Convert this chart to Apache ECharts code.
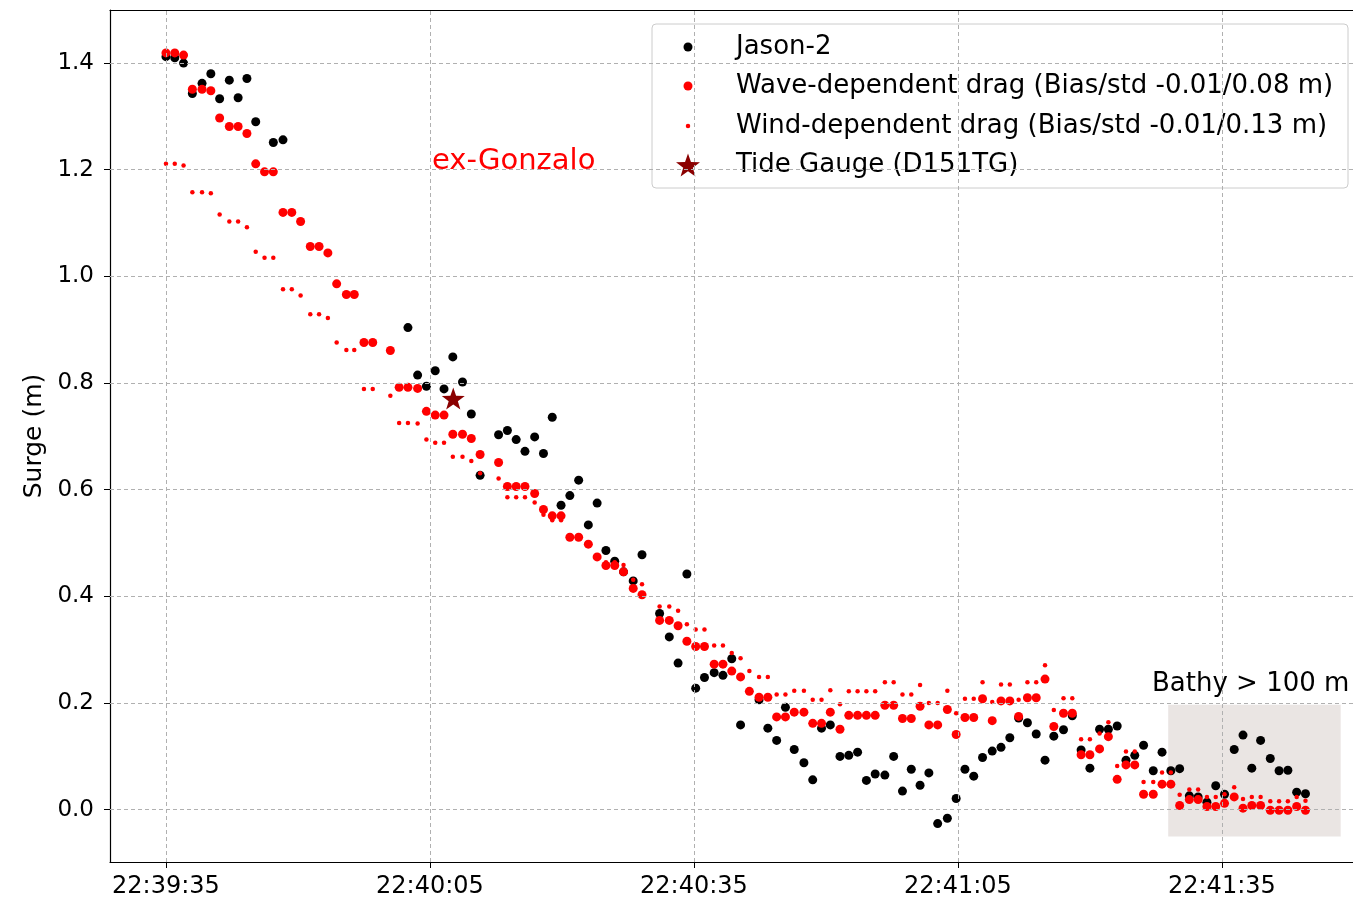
<!DOCTYPE html>
<html><head><meta charset="utf-8">
<script src="https://cdn.jsdelivr.net/npm/echarts@6/dist/echarts.min.js"></script>
<style>html,body{margin:0;padding:0;background:#fff}#c{width:1353px;height:903px}</style>
</head><body><div id="c"></div>
<script>
// seconds after 22:39:35 of each along-track sample
const seconds = [0.0,1.0,2.0,3.0,4.1,5.1,6.1,7.2,8.2,9.2,10.2,11.2,12.2,13.3,14.3,15.3,16.4,17.4,18.4,19.4,20.5,21.4,22.5,23.5,
25.5,26.5,27.5,28.6,29.6,30.6,31.6,32.6,33.7,34.7,35.7,
37.8,38.8,39.8,40.8,41.9,42.9,43.9,44.9,45.9,46.9,48.0,49.0,50.0,51.0,52.0,53.1,54.1,
56.1,57.2,58.2,59.2,60.2,61.2,62.3,63.3,64.3,65.3,66.3,67.4,68.4,69.4,70.4,71.4,72.5,
73.5,74.5,75.5,76.6,77.6,78.6,79.6,80.6,81.7,82.7,83.7,84.7,85.7,86.7,87.7,88.8,89.8,90.8,91.8,92.8,
93.9,94.9,95.9,96.9,97.9,98.9,99.9,100.9,102.0,103.0,104.0,105.0,106.1,107.1,108.1,109.1,110.1,111.1,112.2,113.2,
114.2,115.2,116.3,117.3,118.3,119.3,120.3,121.4,122.4,123.4,124.4,125.5,126.5,127.5,128.5,129.5];

const jason2 = [1.412,1.410,1.400,1.343,1.362,1.380,1.333,1.368,1.335,1.371,1.290,null,1.251,1.256,
null,null,null,null,null,null,null,null,null,null,null,null,
0.904,0.815,0.794,0.823,0.789,0.849,0.802,0.742,0.627,0.703,0.711,0.694,0.672,0.699,0.668,0.736,
0.571,0.589,0.618,0.534,0.575,0.486,0.466,0.446,0.429,0.478,
0.368,0.324,0.275,0.442,0.228,0.248,0.257,0.252,0.283,0.159,
null,
0.206,0.153,0.130,0.192,0.113,0.088,0.056,0.153,0.159,0.100,0.102,0.108,0.055,0.067,0.065,0.100,0.035,0.076,0.046,0.069,
-0.026,-0.016,0.021,0.076,0.063,0.098,0.110,0.117,0.135,0.172,0.163,0.142,0.093,0.138,0.150,0.176,0.112,0.078,0.151,0.151,
0.157,0.093,0.102,0.121,0.073,0.108,0.073,0.077,0.026,0.024,0.014,0.045,0.029,0.113,0.140,0.078,0.130,0.096,0.073,0.074,
0.033,0.030];

const waveDrag = [1.419,1.419,1.415,1.351,1.351,1.348,1.297,1.281,1.281,1.268,1.211,1.196,1.196,1.120,1.120,1.103,1.056,1.056,1.044,0.986,0.966,0.966,0.876,0.876,
0.861,0.792,0.792,0.790,0.747,0.740,0.740,0.704,0.704,0.696,0.666,
0.651,0.606,0.606,0.606,0.593,0.563,0.551,0.551,0.511,0.511,0.498,0.474,0.458,0.458,0.446,0.415,0.403,
0.355,0.355,0.345,0.316,0.306,0.306,0.273,0.273,0.260,0.249,
0.222,0.211,0.211,0.174,0.174,0.183,0.183,0.162,0.162,0.183,
0.151,0.177,0.177,0.177,0.177,0.196,0.196,0.171,0.171,0.194,
0.159,0.159,0.188,0.141,0.173,0.173,0.208,0.167,0.204,0.204,
0.175,0.210,0.210,0.245,0.156,0.181,0.181,0.103,0.103,0.114,
0.137,0.057,0.084,0.084,0.029,0.029,0.048,0.048,0.008,0.019,
0.019,0.006,0.006,0.012,0.024,0.003,0.008,0.008,-0.001,-0.001,
-0.001,0.006,-0.001];

const windDrag = [1.211,1.211,1.208,1.158,1.158,1.156,1.116,1.103,1.103,1.092,1.046,1.035,1.035,0.976,0.976,0.964,0.929,0.929,0.922,0.876,0.862,0.862,0.789,0.789,
0.776,0.725,0.725,0.724,0.694,0.688,0.688,0.662,0.662,0.654,0.631,
0.621,0.586,0.586,0.586,0.576,0.553,0.543,0.543,0.512,0.512,0.499,0.475,0.464,0.464,0.459,0.431,0.423,
0.381,0.381,0.373,0.348,0.338,0.338,0.308,0.308,0.294,0.284,
0.260,0.249,0.249,0.216,0.216,0.223,0.223,0.206,0.206,0.224,
0.198,0.222,0.222,0.222,0.222,0.239,0.239,0.216,0.216,0.234,
0.200,0.200,0.223,0.181,0.208,0.208,0.239,0.202,0.235,0.235,
0.206,0.239,0.239,0.271,0.187,0.209,0.209,0.132,0.132,0.143,
0.164,0.082,0.109,0.109,0.052,0.052,0.070,0.070,0.028,0.038,
0.038,0.024,0.024,0.029,0.042,0.020,0.024,0.024,0.016,0.016,
0.016,0.024,0.017];

const tideGaugeSecond = 32.65;
const tideGaugeSurge = 0.771;

const xTickSeconds = [0, 30, 60, 90, 120];
const xTickLabels = ['22:39:35', '22:40:05', '22:40:35', '22:41:05', '22:41:35'];
const yTicks = [0.0, 0.2, 0.4, 0.6, 0.8, 1.0, 1.2, 1.4];

const bathyStart = 113.9, bathyEnd = 133.5, bathyLow = -0.05, bathyHigh = 0.197;

const seriesNames = ['Jason-2', 'Wave-dependent drag (Bias/std -0.01/0.08 m)', 'Wind-dependent drag (Bias/std -0.01/0.13 m)', 'Tide Gauge (D151TG)'];

const STAR = 'path://M0,-10 L2.35,-3.24 L9.51,-3.09 L3.80,1.24 L5.88,8.09 L0,4 L-5.88,8.09 L-3.80,1.24 L-9.51,-3.09 L-2.35,-3.24 Z';

function pairs(vals) {
  const out = [];
  for (let i = 0; i < seconds.length; i++) if (vals[i] !== null) out.push([seconds[i], vals[i]]);
  return out;
}

const FONT = 'DejaVu Sans';
const legendRows = [47, 86, 126, 165];
const legendSizes = [9, 9, 4.5, 24];
const legendIcons = ['circle', 'circle', 'circle', STAR];

const X_MIN = -6.36, X_MAX = 134.9;

const chart = echarts.init(document.getElementById('c'), null, {renderer: 'canvas'});
chart.setOption({
  animation: false,
  backgroundColor: '#ffffff',
  grid: {left: 110, right: 0, top: 10, bottom: 41, show: false},
  xAxis: [{
    type: 'value', min: X_MIN, max: X_MAX,
    axisLine: {onZero: false, lineStyle: {color: '#000', width: 1.2}},
    axisTick: {customValues: xTickSeconds, length: 6, lineStyle: {color: '#000', width: 1}},
    axisLabel: {customValues: xTickSeconds, margin: 13, fontSize: 24, fontFamily: FONT, color: '#000',
      formatter: v => { const i = xTickSeconds.indexOf(Math.round(v)); return i >= 0 ? xTickLabels[i] : ''; }},
    splitLine: {show: false}
  }, {
    type: 'value', position: 'top', min: X_MIN, max: X_MAX,
    axisLine: {onZero: false, lineStyle: {color: '#000', width: 1.2}},
    axisTick: {show: false}, axisLabel: {show: false}, splitLine: {show: false}
  }],
  yAxis: {
    type: 'value', min: -0.098, max: 1.4995,
    name: 'Surge (m)', nameLocation: 'middle', nameGap: 60, nameRotate: 90,
    nameTextStyle: {fontSize: 25, fontFamily: FONT, color: '#000'},
    axisLine: {onZero: false, lineStyle: {color: '#000', width: 1.2}},
    axisTick: {customValues: yTicks, length: 6, lineStyle: {color: '#000', width: 1}},
    axisLabel: {customValues: yTicks, margin: 16, fontSize: 23, fontFamily: FONT, color: '#000', formatter: v => v.toFixed(1)},
    splitLine: {show: false}
  },
  legend: seriesNames.map((n, i) => ({
    data: [{name: n, icon: legendIcons[i]}],
    orient: 'vertical', left: 688 - legendSizes[i] / 2, top: legendRows[i] - 15,
    itemWidth: legendSizes[i], itemHeight: legendSizes[i], padding: 0, selectedMode: false, z: 5,
    textStyle: {fontSize: 26, fontFamily: FONT, color: '#000', lineHeight: 30,
      padding: [0, 0, 0, 736 - (688 + legendSizes[i] / 2 + 5)]}
  })),
  graphic: [
    {type: 'rect', z: 3, shape: {x: 652, y: 24, width: 696, height: 164, r: 4},
     style: {fill: 'rgba(255,255,255,0.85)', stroke: '#cccccc', lineWidth: 1}},
    {type: 'text', z: 6, x: 432, y: 161,
     style: {text: 'ex-Gonzalo', fill: '#ff0000', fontSize: 29, fontFamily: FONT, align: 'left', verticalAlign: 'middle', textAlign: 'left', textVerticalAlign: 'middle'}},
    {type: 'text', z: 6, x: 1152, y: 684,
     style: {text: 'Bathy > 100 m', fill: '#000', fontSize: 26, fontFamily: FONT, align: 'left', verticalAlign: 'middle', textAlign: 'left', textVerticalAlign: 'middle'}}
  ],
  series: [
    {type: 'scatter', name: 'gridlines', data: [], z: 1, silent: true,
     markLine: {silent: true, symbol: ['none', 'none'], label: {show: false}, animation: false,
       lineStyle: {type: [4, 3], color: '#b0b0b0', width: 1},
       emphasis: {disabled: true},
       data: [...xTickSeconds.map(v => ({xAxis: v})), ...yTicks.map(v => ({yAxis: v}))]}},
    {type: 'scatter', name: seriesNames[0], data: pairs(jason2), symbol: 'circle', symbolSize: 9, z: 2,
     itemStyle: {color: '#000000', opacity: 1}},
    {type: 'scatter', name: seriesNames[1], data: pairs(waveDrag), symbol: 'circle', symbolSize: 9, z: 2,
     itemStyle: {color: '#ff0000', opacity: 1}},
    {type: 'scatter', name: seriesNames[2], data: pairs(windDrag), symbol: 'circle', symbolSize: 4.5, z: 2,
     itemStyle: {color: '#ff0000', opacity: 1}},
    {type: 'scatter', name: seriesNames[3], data: [[tideGaugeSecond, tideGaugeSurge]], symbol: STAR, symbolSize: 23, symbolKeepAspect: true, z: 3,
     itemStyle: {color: '#8b0000', opacity: 1}},
    {type: 'scatter', name: 'bathy', data: [], z: 4, silent: true,
     markArea: {silent: true, itemStyle: {color: 'rgba(170,152,145,0.25)'},
       data: [[{xAxis: bathyStart, yAxis: bathyLow}, {xAxis: bathyEnd, yAxis: bathyHigh}]]}}
  ]
});
</script></body></html>
